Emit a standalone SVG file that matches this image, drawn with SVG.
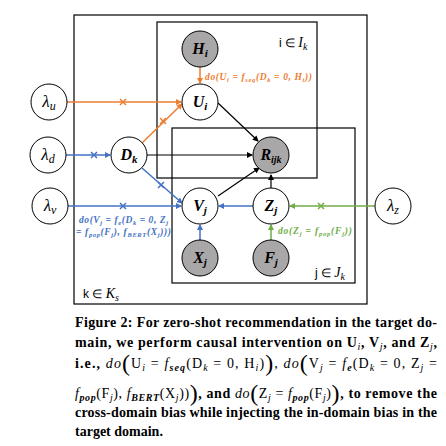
<svg xmlns="http://www.w3.org/2000/svg" width="446" height="446" viewBox="0 0 446 446">
<defs>
<marker id="aO" markerWidth="6" markerHeight="6" refX="5" refY="3" orient="auto" markerUnits="userSpaceOnUse"><path d="M0,0 L6,3 L0,6 z" fill="#ED7D31"/></marker>
<marker id="aB" markerWidth="6" markerHeight="6" refX="5" refY="3" orient="auto" markerUnits="userSpaceOnUse"><path d="M0,0 L6,3 L0,6 z" fill="#4472C4"/></marker>
<marker id="aG" markerWidth="6" markerHeight="6" refX="5" refY="3" orient="auto" markerUnits="userSpaceOnUse"><path d="M0,0 L6,3 L0,6 z" fill="#70AD47"/></marker>
<marker id="aK" markerWidth="6" markerHeight="6" refX="5" refY="3" orient="auto" markerUnits="userSpaceOnUse"><path d="M0,0 L6,3 L0,6 z" fill="#000"/></marker>
</defs>
<style>
.plate{fill:none;stroke:#000;stroke-width:1.2}
.n{fill:#fff;stroke:#000;stroke-width:1}
.g{fill:#A9A7A7;stroke:#000;stroke-width:1}
.lb{font-family:"Liberation Serif",serif;font-weight:bold;font-style:italic;font-size:16px;text-anchor:middle}
.lam{font-family:"Liberation Serif",serif;font-style:italic;font-size:17px;text-anchor:middle}
.pl{font-family:"Liberation Sans",sans-serif;font-size:12px}
.o{stroke:#ED7D31;stroke-width:1.5;fill:none}
.b{stroke:#4472C4;stroke-width:1.5;fill:none}
.gr{stroke:#70AD47;stroke-width:1.5;fill:none}
.k{stroke:#000;stroke-width:1.2;fill:none}
.do{font-family:"Liberation Serif",serif;font-weight:bold;font-style:italic;font-size:9.5px}
.cap{font-family:"Liberation Serif",serif;font-weight:bold;font-size:14px;fill:#000}
.m{font-weight:normal}
.it{font-style:italic}
</style>

<g id="plates">
<rect class="plate" x="74" y="15" width="293" height="289"/>
<rect class="plate" x="157" y="22" width="160" height="156"/>
<rect class="plate" x="172" y="128" width="183" height="155"/>
<text class="pl" x="279" y="47">i ∈ <tspan font-family="Liberation Serif" font-style="italic" font-size="14">I</tspan><tspan font-family="Liberation Serif" font-style="italic" font-size="10" dy="3">k</tspan></text>
<text class="pl" x="315" y="277">j ∈ <tspan font-family="Liberation Serif" font-style="italic" font-size="14">J</tspan><tspan font-family="Liberation Serif" font-style="italic" font-size="10" dy="3">k</tspan></text>
<text class="pl" x="83" y="298">k ∈ <tspan font-family="Liberation Serif" font-style="italic" font-size="14">K</tspan><tspan font-family="Liberation Serif" font-style="italic" font-size="10" dy="3">s</tspan></text>
</g>

<g id="connectors">
<line class="o" x1="200" y1="67" x2="200" y2="83" marker-end="url(#aO)"/>
<line class="o" x1="67" y1="102" x2="181" y2="102" marker-end="url(#aO)"/>
<line class="o" x1="142" y1="143" x2="182" y2="104" marker-end="url(#aO)"/>
<path class="o" d="M120,99 L126,105 M126,99 L120,105"/>
<path class="o" d="M160,118 L166,124 M166,118 L160,124"/>
<line class="b" x1="66" y1="155" x2="110" y2="155" marker-end="url(#aB)"/>
<path class="b" d="M91,152 L97,158 M97,152 L91,158"/>
<line class="b" x1="142" y1="168" x2="182" y2="203" marker-end="url(#aB)"/>
<path class="b" d="M158,182 L164,188 M164,182 L158,188"/>
<line class="b" x1="68" y1="206" x2="181" y2="206" marker-end="url(#aB)"/>
<path class="b" d="M120,203 L126,209 M126,203 L120,209"/>
<line class="b" x1="253" y1="206" x2="219" y2="206" marker-end="url(#aB)"/>
<line class="b" x1="200" y1="240" x2="200" y2="225" marker-end="url(#aB)"/>
<line class="gr" x1="271" y1="240" x2="271" y2="225" marker-end="url(#aG)"/>
<line class="gr" x1="375" y1="206" x2="290" y2="206" marker-end="url(#aG)"/>
<path class="gr" d="M318,203 L324,209 M324,203 L318,209"/>
<line class="k" x1="147" y1="155" x2="252" y2="155" marker-end="url(#aK)"/>
<line class="k" x1="218" y1="103" x2="258" y2="141" marker-end="url(#aK)"/>
<line class="k" x1="218" y1="196" x2="259" y2="168" marker-end="url(#aK)"/>
<line class="k" x1="271" y1="188" x2="271" y2="175" marker-end="url(#aK)"/>
<text class="do" fill="#ED7D31" x="205" y="80" textLength="107" lengthAdjust="spacing">do(U<tspan font-size="6.5" dy="2">i</tspan><tspan dy="-2"> = f</tspan><tspan font-size="6.5" dy="2">seq</tspan><tspan dy="-2">(D</tspan><tspan font-size="6.5" dy="2">k</tspan><tspan dy="-2"> = 0, H</tspan><tspan font-size="6.5" dy="2">i</tspan><tspan dy="-2">))</tspan></text>
<text class="do" fill="#4472C4" x="79" y="223" textLength="89" lengthAdjust="spacing">do(V<tspan font-size="6.5" dy="2">j</tspan><tspan dy="-2"> = f</tspan><tspan font-size="6.5" dy="2">e</tspan><tspan dy="-2">(D</tspan><tspan font-size="6.5" dy="2">k</tspan><tspan dy="-2"> = 0, Z</tspan><tspan font-size="6.5" dy="2">j</tspan></text>
<text class="do" fill="#4472C4" x="76" y="235" textLength="95" lengthAdjust="spacing">= f<tspan font-size="6.5" dy="2">pop</tspan><tspan dy="-2">(F</tspan><tspan font-size="6.5" dy="2">j</tspan><tspan dy="-2">), f</tspan><tspan font-size="6.5" dy="2">BERT</tspan><tspan dy="-2">(X</tspan><tspan font-size="6.5" dy="2">j</tspan><tspan dy="-2">)))</tspan></text>
<text class="do" fill="#70AD47" x="278" y="234" textLength="74" lengthAdjust="spacing">do(Z<tspan font-size="6.5" dy="2">j</tspan><tspan dy="-2"> = f</tspan><tspan font-size="6.5" dy="2">pop</tspan><tspan dy="-2">(F</tspan><tspan font-size="6.5" dy="2">j</tspan><tspan dy="-2">))</tspan></text>
</g>

<g id="node-Hi"><circle class="g" cx="200" cy="49" r="18"/><text class="lb" x="200" y="54">H<tspan font-size="11" dy="3">i</tspan></text></g>
<g id="node-Ui"><circle class="n" cx="200" cy="102" r="18"/><text class="lb" x="200" y="107">U<tspan font-size="11" dy="3">i</tspan></text></g>
<g id="node-lu"><circle class="n" cx="49" cy="102" r="18"/><text class="lam" x="49" y="107">λ<tspan font-size="12" dy="3">u</tspan></text></g>
<g id="node-ld"><circle class="n" cx="48" cy="155" r="18"/><text class="lam" x="48" y="160">λ<tspan font-size="12" dy="3">d</tspan></text></g>
<g id="node-Dk"><circle class="n" cx="129" cy="155" r="18"/><text class="lb" x="129" y="160">D<tspan font-size="11" dy="3">k</tspan></text></g>
<g id="node-Rijk"><circle class="g" cx="271" cy="155" r="18"/><text class="lb" x="271" y="160">R<tspan font-size="10" dy="3">ijk</tspan></text></g>
<g id="node-lv"><circle class="n" cx="50" cy="206" r="18"/><text class="lam" x="50" y="211">λ<tspan font-size="12" dy="3">v</tspan></text></g>
<g id="node-Vj"><circle class="n" cx="200" cy="206" r="18"/><text class="lb" x="200" y="211">V<tspan font-size="11" dy="3">j</tspan></text></g>
<g id="node-Zj"><circle class="n" cx="271" cy="206" r="18"/><text class="lb" x="271" y="211">Z<tspan font-size="11" dy="3">j</tspan></text></g>
<g id="node-lz"><circle class="n" cx="393" cy="206" r="18"/><text class="lam" x="393" y="211">λ<tspan font-size="12" dy="3">z</tspan></text></g>
<g id="node-Xj"><circle class="g" cx="200" cy="258" r="18"/><text class="lb" x="200" y="263">X<tspan font-size="11" dy="3">j</tspan></text></g>
<g id="node-Fj"><circle class="g" cx="271" cy="258" r="18"/><text class="lb" x="271" y="263">F<tspan font-size="11" dy="3">j</tspan></text></g>

<g id="caption">
<text class="cap" x="75" y="327" textLength="362" lengthAdjust="spacing">Figure 2: For zero-shot recommendation in the target do-</text>
<text class="cap" x="75" y="347" textLength="362" lengthAdjust="spacing">main, we perform causal intervention on U<tspan class="m it" font-size="10" dy="3">i</tspan><tspan dy="-3">, V</tspan><tspan class="m it" font-size="10" dy="3">j</tspan><tspan dy="-3">, and Z</tspan><tspan class="m it" font-size="10" dy="3">j</tspan><tspan dy="-3">,</tspan></text>
<text class="cap" x="75" y="368" textLength="362" lengthAdjust="spacing">i.e., <tspan class="m it">do</tspan><tspan class="m" font-size="24" dy="3">(</tspan><tspan class="m" dy="-3">U</tspan><tspan class="m it" font-size="10" dy="3">i</tspan><tspan class="m" dy="-3"> = </tspan><tspan class="m it">f</tspan><tspan class="it" font-size="10" dy="3">seq</tspan><tspan class="m" dy="-3">(D</tspan><tspan class="m it" font-size="10" dy="3">k</tspan><tspan class="m" dy="-3"> = 0, H</tspan><tspan class="m it" font-size="10" dy="3">i</tspan><tspan class="m" dy="-3">)</tspan><tspan class="m" font-size="24" dy="3">)</tspan><tspan class="m" dy="-3">, </tspan><tspan class="m it">do</tspan><tspan class="m" font-size="24" dy="3">(</tspan><tspan class="m" dy="-3">V</tspan><tspan class="m it" font-size="10" dy="3">j</tspan><tspan class="m" dy="-3"> = </tspan><tspan class="m it">f</tspan><tspan class="it" font-size="10" dy="3">e</tspan><tspan class="m" dy="-3">(D</tspan><tspan class="m it" font-size="10" dy="3">k</tspan><tspan class="m" dy="-3"> = 0, Z</tspan><tspan class="m it" font-size="10" dy="3">j</tspan><tspan class="m" dy="-3"> =</tspan></text>
<text class="cap" x="75" y="398" textLength="362" lengthAdjust="spacing"><tspan class="m it">f</tspan><tspan class="it" font-size="10" dy="3">pop</tspan><tspan class="m" dy="-3">(F</tspan><tspan class="m it" font-size="10" dy="3">j</tspan><tspan class="m" dy="-3">), </tspan><tspan class="m it">f</tspan><tspan class="it" font-size="10" dy="3">BERT</tspan><tspan class="m" dy="-3">(X</tspan><tspan class="m it" font-size="10" dy="3">j</tspan><tspan class="m" dy="-3">))</tspan><tspan class="m" font-size="24" dy="3">)</tspan><tspan dy="-3">, and </tspan><tspan class="m it">do</tspan><tspan class="m" font-size="24" dy="3">(</tspan><tspan class="m" dy="-3">Z</tspan><tspan class="m it" font-size="10" dy="3">j</tspan><tspan class="m" dy="-3"> = </tspan><tspan class="m it">f</tspan><tspan class="it" font-size="10" dy="3">pop</tspan><tspan class="m" dy="-3">(F</tspan><tspan class="m it" font-size="10" dy="3">j</tspan><tspan class="m" dy="-3">)</tspan><tspan class="m" font-size="24" dy="3">)</tspan><tspan dy="-3">, to remove the</tspan></text>
<text class="cap" x="75" y="417" textLength="362" lengthAdjust="spacing">cross-domain bias while injecting the in-domain bias in the</text>
<text class="cap" x="75" y="436">target domain.</text>
</g>
</svg>
